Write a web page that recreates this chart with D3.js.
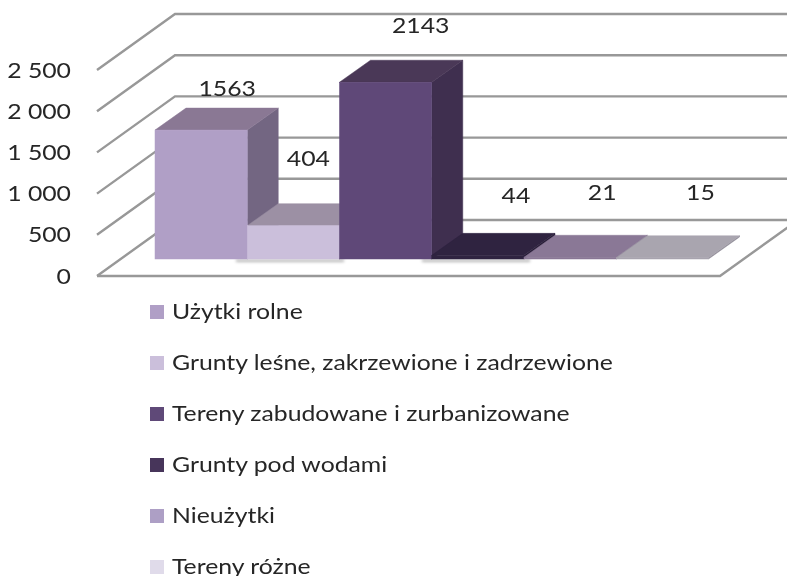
<!DOCTYPE html>
<html><head><meta charset="utf-8">
<script src="https://cdn.jsdelivr.net/npm/d3@7"></script>
<style>html,body{margin:0;padding:0;background:#fff}svg{display:block}text{font-family:Lato,"Open Sans",sans-serif;fill:#262626}</style>
</head><body><div id="c"></div>
<script>
const categories=["Użytki rolne","Grunty leśne, zakrzewione i zadrzewione","Tereny zabudowane i zurbanizowane","Grunty pod wodami","Nieużytki","Tereny różne"];
const values=[1563,404,2143,44,21,15];
const ticks=[0,500,1000,1500,2000,2500];
const frontColors=["#b09fc6","#cbbfdb","#5f4878","#46345a","#ad9fc5","#e0dbea"];
const topColors=["#8a7894","#9c90a4","#4a3857","#2f2340","#8a7896","#a9a5af"];
const sideColors=["#736682","#857b90","#3f2f4f","#291e38","#756680","#8f8b96"];
const labelDx=[26,15,35,38,32,38], labelDy=[-34,-60,-49,-52,-57,-58];

const W=787,H=576,stretch=1.18,fontSize=21;
const svg=d3.select("#c").append("svg").attr("width",W).attr("height",H);
const defs=svg.append("defs");
defs.append("filter").attr("id","soft").append("feGaussianBlur").attr("stdDeviation",0.45);
const sh=defs.append("filter").attr("id","shadow").attr("x","-20%").attr("y","-500%").attr("width","140%").attr("height","1100%");
sh.append("feGaussianBlur").attr("stdDeviation",1.5);

const y=d3.scaleLinear().domain([0,2500]).range([276,70]);
const yBar=d3.scaleLinear().domain([0,2500]).range([259,52.8]);
const x=d3.scaleBand().domain(categories).range([155,708.5]).padding(0);
const gridDx=78,gridDy=-56,barDx=31,barDy=-22,gridRight=900;

const gGrid=svg.append("g").attr("fill","none").attr("stroke","#989898").attr("stroke-width",2.4).attr("filter","url(#soft)");
gGrid.selectAll("path").data(ticks).join("path")
 .attr("d",d=>`M${97},${y(d)}L${97+gridDx},${y(d)+gridDy}L${gridRight},${y(d)+gridDy}`);
gGrid.append("path").attr("d",`M97,${y(0)}L720,${y(0)}L${720+gridDx},${y(0)+gridDy}`);

svg.append("g").selectAll("rect").data([[236,344],[422,530]]).join("rect")
 .attr("x",d=>d[0]).attr("width",d=>d[1]-d[0]).attr("y",259.5).attr("height",2.5)
 .attr("fill","#b4b4b4").attr("filter","url(#shadow)");

const bars=svg.append("g").selectAll("g").data(categories.map((c,i)=>({c,i,v:values[i]}))).join("g");
const paint=(sel,f)=>sel.attr("fill",f).attr("stroke",f).attr("stroke-width",0.5);
paint(bars.append("path"),d=>sideColors[d.i]).attr("d",d=>{
  const r=x(d.c)+x.bandwidth(),t=yBar(d.v),b=yBar(0);
  return `M${r},${t}L${r+barDx},${t+barDy}L${r+barDx},${b+barDy}L${r},${b}Z`;});
paint(bars.append("path"),d=>topColors[d.i]).attr("d",d=>{
  const l=x(d.c),r=l+x.bandwidth(),t=yBar(d.v);
  return `M${l},${t}L${r},${t}L${r+barDx},${t+barDy}L${l+barDx},${t+barDy}Z`;});
// very short bars read as one tone: the front merges with the top
paint(bars.append("rect"),d=>(yBar(0)-yBar(d.v)<5)?topColors[d.i]:frontColors[d.i])
  .attr("x",d=>x(d.c)).attr("width",x.bandwidth())
  .attr("y",d=>yBar(d.v)).attr("height",d=>yBar(0)-yBar(d.v));

const place=(px,py)=>`translate(${px},${py}) scale(${stretch},1)`;
const tg=svg.append("g").attr("filter","url(#soft)");
tg.selectAll(".tick").data(ticks).join("text").attr("class","tick")
 .attr("transform",d=>place(71,y(d)+7.5)).attr("text-anchor","end").attr("font-size",fontSize)
 .text(d=>d3.format(",")(d).replace(/,/g," "));
tg.selectAll(".lab").data(values).join("text").attr("class","lab")
 .attr("transform",(d,i)=>place(x(categories[i])+x.bandwidth()/2+labelDx[i],yBar(d)+labelDy[i]))
 .attr("text-anchor","middle").attr("font-size",fontSize)
 .text(d=>d);

const ly=d3.scalePoint().domain(categories).range([312,567]);
const lg=svg.append("g").selectAll("g").data(categories).join("g").attr("filter","url(#soft)");
lg.append("rect").attr("x",150).attr("y",d=>ly(d)-7).attr("width",14).attr("height",14).attr("fill",(d,i)=>frontColors[i]);
lg.append("text").attr("transform",d=>place(172,ly(d)+7)).attr("font-size",fontSize).text(d=>d);
</script></body></html>
